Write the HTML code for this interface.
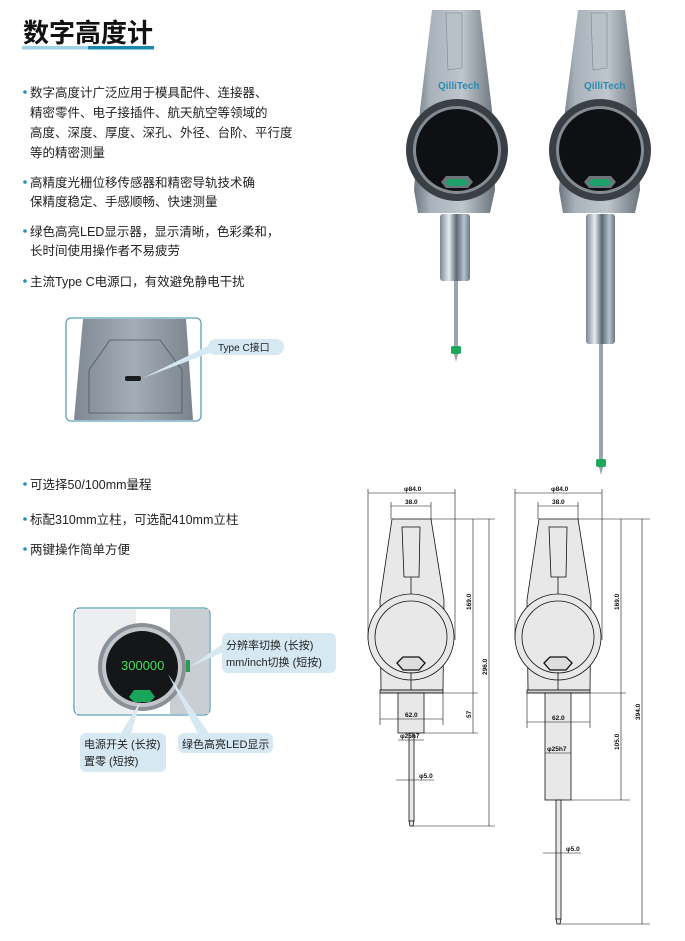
<!DOCTYPE html>
<html><head><meta charset="utf-8"><style>
html,body{margin:0;padding:0;background:#fff;}
svg{display:block;}
text{font-family:"Liberation Sans","Noto Sans CJK SC",sans-serif;}
</style></head><body>
<svg width="685" height="941" viewBox="0 0 685 941" xmlns="http://www.w3.org/2000/svg">
<defs>
<linearGradient id="body" x1="0" x2="1" y1="0" y2="0">
<stop offset="0" stop-color="#6d7680"/><stop offset="0.2" stop-color="#a9b2bb"/><stop offset="0.6" stop-color="#bfc6cd"/><stop offset="1" stop-color="#6a727b"/></linearGradient>
<linearGradient id="stem" x1="0" x2="1" y1="0" y2="0">
<stop offset="0" stop-color="#7c8794"/><stop offset="0.3" stop-color="#e4ebf2"/><stop offset="0.55" stop-color="#5d6875"/><stop offset="0.8" stop-color="#b6c2ce"/><stop offset="1" stop-color="#6b7784"/></linearGradient>
<linearGradient id="tc" x1="0" x2="1"><stop offset="0" stop-color="#7f8993"/><stop offset="0.5" stop-color="#a4adb6"/><stop offset="1" stop-color="#7b848e"/></linearGradient>
</defs>

<!-- Title -->
<text x="23" y="42" font-size="26" font-weight="bold" fill="#111">数字高度计</text>
<rect x="22" y="46" width="66" height="3.5" fill="#9fd0e3"/>
<rect x="88" y="46" width="66" height="3.5" fill="#1a88ad"/>

<!-- bullets -->
<g font-size="12.5" fill="#222">
<circle cx="25" cy="92" r="1.8" fill="#2a8fb3"/>
<text x="30" y="97">数字高度计广泛应用于模具配件、连接器、</text>
<text x="30" y="117">精密零件、电子接插件、航天航空等领域的</text>
<text x="30" y="137">高度、深度、厚度、深孔、外径、台阶、平行度</text>
<text x="30" y="157">等的精密测量</text>
<circle cx="25" cy="182" r="1.8" fill="#2a8fb3"/>
<text x="30" y="187">高精度光栅位移传感器和精密导轨技术确</text>
<text x="30" y="206">保精度稳定、手感顺畅、快速测量</text>
<circle cx="25" cy="231" r="1.8" fill="#2a8fb3"/>
<text x="30" y="236">绿色高亮LED显示器，显示清晰，色彩柔和，</text>
<text x="30" y="255">长时间使用操作者不易疲劳</text>
<circle cx="25" cy="281" r="1.8" fill="#2a8fb3"/>
<text x="30" y="286">主流Type C电源口，有效避免静电干扰</text>
<circle cx="25" cy="484" r="1.8" fill="#2a8fb3"/>
<text x="30" y="489">可选择50/100mm量程</text>
<circle cx="25" cy="519" r="1.8" fill="#2a8fb3"/>
<text x="30" y="524">标配310mm立柱，可选配410mm立柱</text>
<circle cx="25" cy="549" r="1.8" fill="#2a8fb3"/>
<text x="30" y="554">两键操作简单方便</text>
</g>

<!-- Type C box -->
<rect x="66" y="318" width="135" height="103" rx="5" fill="#fff" stroke="#5a9fb8" stroke-width="1.3"/>
<path d="M83 319 L186 319 L193 420 L74 420 Z" fill="url(#tc)"/>
<path d="M110 340 L160 340 L182 370 L182 413 L89 413 L89 370 Z" fill="none" stroke="#4d555d" stroke-width="0.8"/>
<rect x="125" y="376" width="16" height="5" rx="2" fill="#1a1d20"/>
<path d="M143 378 L212 352 L212 344 Z" fill="#d6e8f2"/>
<rect x="208" y="339" width="76" height="16" rx="8" fill="#d6e8f2"/>
<text x="218" y="351" font-size="10" fill="#222">Type C接口</text>

<!-- LED box -->
<rect x="74" y="608" width="136" height="107" rx="6" fill="#fff" stroke="#5a9fb8" stroke-width="1.3"/>
<rect x="170" y="609" width="39" height="105" fill="#c9ced3"/>
<rect x="76" y="609" width="60" height="105" fill="#eceef0"/>
<circle cx="142" cy="667" r="44" fill="#8a9097"/>
<circle cx="142" cy="667" r="40" fill="#c2c6ca"/>
<circle cx="142" cy="667" r="36" fill="#141618"/>
<text x="121" y="670" font-size="13" fill="#3ee05a" font-family="Liberation Mono,monospace">300000</text>
<path d="M129 697 L134 690 L150 690 L155 697 L150 702 L134 702 Z" fill="#19a55b"/>
<rect x="186" y="660" width="4" height="12" fill="#2a9a55"/>
<path d="M190 667 L228 650 L228 640 Z" fill="#d6e8f2"/>
<path d="M140 702 L118 738 L130 738 Z" fill="#d6e8f2"/>
<path d="M168 674 L200 738 L212 738 Z" fill="#d6e8f2"/>
<rect x="222" y="633" width="114" height="40" rx="6" fill="#d6e8f2"/>
<text x="226" y="649" font-size="11" fill="#222">分辨率切换 (长按)</text>
<text x="226" y="666" font-size="11" fill="#222">mm/inch切换 (短按)</text>
<rect x="80" y="733" width="86" height="39" rx="6" fill="#d6e8f2"/>
<text x="84" y="748" font-size="11" fill="#222">电源开关 (长按)</text>
<text x="84" y="765" font-size="11" fill="#222">置零 (短按)</text>
<rect x="178" y="733" width="95" height="20" rx="6" fill="#d6e8f2"/>
<text x="182" y="748" font-size="11" fill="#222">绿色高亮LED显示</text>

<!-- Devices photos -->
<g id="dev1">
<rect x="440" y="214" width="30" height="67" rx="3" fill="url(#stem)"/>
<rect x="454" y="281" width="4" height="75" fill="#9aa4ae"/>
<rect x="451" y="346" width="10" height="8" rx="2" fill="#1ea85e"/>
<path d="M454 354 L458 354 L456 362 Z" fill="#9aa4ae"/>
<path d="M432 10 L480 10 L492 110 L495 190 L490 213 L418 213 L414 190 L420 110 Z" fill="url(#body)"/>
<path d="M446 13 L462 13 L462 68 L448 70 Z" fill="#b8c0c8" stroke="#7c858e" stroke-width="0.6"/>
<text x="438" y="89" font-size="10" font-weight="bold" fill="#2a8bb0">QilliTech</text>
<circle cx="457" cy="150" r="51" fill="#3a3f45"/>
<circle cx="457" cy="150" r="44" fill="#858b92"/>
<circle cx="457" cy="150" r="41" fill="#0e1013"/>
<path d="M441 182 L446 176 L468 176 L473 182 L468 188 L446 188 Z" fill="#6d737a"/>
<path d="M445 183 L449 179 L465 179 L469 183 L465 186 L449 186 Z" fill="#1ea06a"/>
</g>
<g>
<rect x="586" y="214" width="29" height="130" rx="3" fill="url(#stem)"/>
<rect x="599" y="344" width="4" height="124" fill="#9aa4ae"/>
<rect x="596" y="459" width="10" height="8" rx="2" fill="#1ea85e"/>
<path d="M599 467 L603 467 L601 475 Z" fill="#9aa4ae"/>
<path d="M578 10 L625 10 L637 110 L640 190 L635 213 L563 213 L559 190 L565 110 Z" fill="url(#body)"/>
<path d="M591 13 L607 13 L607 68 L593 70 Z" fill="#b8c0c8" stroke="#7c858e" stroke-width="0.6"/>
<text x="584" y="89" font-size="10" font-weight="bold" fill="#2a8bb0">QilliTech</text>
<circle cx="600" cy="150" r="51" fill="#3a3f45"/>
<circle cx="600" cy="150" r="44" fill="#858b92"/>
<circle cx="600" cy="150" r="41" fill="#0e1013"/>
<path d="M584 182 L589 176 L611 176 L616 182 L611 188 L589 188 Z" fill="#6d737a"/>
<path d="M588 183 L592 179 L608 179 L612 183 L608 186 L592 186 Z" fill="#1ea06a"/>
</g>

<!-- Drawings -->
<g stroke="#111" stroke-width="0.8" fill="#e8e8e8">
<!-- left -->
<path d="M392 519 L431 519 L444 600 L443 690 L381 690 L380 600 Z"/>
<path d="M402 527 L420 527 L419 577 L404 577 Z" fill="#e8e8e8"/>
<line x1="411" y1="577" x2="411" y2="600"/>
<rect x="380" y="690" width="63" height="3" fill="#ccc"/>
<circle cx="411" cy="637" r="43"/>
<circle cx="411" cy="637" r="36"/>
<path d="M397 663 L403 657 L419 657 L425 663 L419 670 L403 670 Z" fill="#ddd" stroke-width="1.3"/>
<line x1="411" y1="672" x2="411" y2="690"/>
<rect x="398" y="693" width="26" height="40"/>
<rect x="409" y="733" width="5" height="88"/>
<path d="M409 821 L414 821 L413 826 L410 826 Z"/>
<!-- right -->
<path d="M539 519 L578 519 L591 600 L590 690 L528 690 L527 600 Z"/>
<path d="M549 527 L567 527 L566 577 L551 577 Z"/>
<line x1="558" y1="577" x2="558" y2="600"/>
<rect x="527" y="690" width="63" height="3" fill="#ccc"/>
<circle cx="558" cy="637" r="43"/>
<circle cx="558" cy="637" r="36"/>
<path d="M544 663 L550 657 L566 657 L572 663 L566 670 L550 670 Z" fill="#ddd" stroke-width="1.3"/>
<line x1="558" y1="672" x2="558" y2="690"/>
<rect x="545" y="693" width="26" height="107"/>
<rect x="556" y="800" width="5" height="119"/>
<path d="M556 919 L561 919 L560 924 L557 924 Z"/>
</g>
<g stroke="#111" stroke-width="0.6" fill="none">
<!-- left dims -->
<line x1="368" y1="489" x2="368" y2="640"/><line x1="455" y1="489" x2="455" y2="640"/>
<line x1="368" y1="493" x2="455" y2="493"/>
<line x1="391" y1="502" x2="391" y2="519"/><line x1="431" y1="502" x2="431" y2="519"/>
<line x1="391" y1="506" x2="431" y2="506"/>
<line x1="431" y1="519" x2="495" y2="519"/>
<line x1="473" y1="519" x2="473" y2="733"/>
<line x1="489" y1="519" x2="489" y2="826"/>
<line x1="380" y1="693" x2="478" y2="693"/>
<line x1="424" y1="733" x2="478" y2="733"/>
<line x1="411" y1="826" x2="495" y2="826"/>
<line x1="380" y1="693" x2="380" y2="725"/><line x1="443" y1="693" x2="443" y2="725"/>
<line x1="380" y1="719" x2="443" y2="719"/>
<line x1="398" y1="740" x2="424" y2="740"/>
<line x1="396" y1="780" x2="434" y2="780"/>
<!-- right dims -->
<line x1="515" y1="489" x2="515" y2="640"/><line x1="602" y1="489" x2="602" y2="640"/>
<line x1="515" y1="493" x2="602" y2="493"/>
<line x1="538" y1="502" x2="538" y2="519"/><line x1="578" y1="502" x2="578" y2="519"/>
<line x1="538" y1="506" x2="578" y2="506"/>
<line x1="578" y1="519" x2="650" y2="519"/>
<line x1="621" y1="519" x2="621" y2="800"/>
<line x1="642" y1="519" x2="642" y2="924"/>
<line x1="527" y1="693" x2="626" y2="693"/>
<line x1="571" y1="800" x2="630" y2="800"/>
<line x1="558" y1="924" x2="650" y2="924"/>
<line x1="527" y1="693" x2="527" y2="728"/><line x1="590" y1="693" x2="590" y2="728"/>
<line x1="527" y1="722" x2="590" y2="722"/>
<line x1="545" y1="753" x2="571" y2="753"/>
<line x1="543" y1="853" x2="581" y2="853"/>
</g>
<g font-size="6.5" fill="#111" font-weight="bold">
<text x="404" y="491">φ84.0</text><text x="405" y="504">38.0</text>
<text x="405" y="717">62.0</text><text x="400" y="738">φ25h7</text><text x="419" y="778">φ5.0</text>
<text x="551" y="491">φ84.0</text><text x="552" y="504">38.0</text>
<text x="552" y="720">62.0</text><text x="547" y="751">φ25h7</text><text x="566" y="851">φ5.0</text>
<text transform="translate(471,610) rotate(-90)">169.0</text>
<text transform="translate(487,675) rotate(-90)">296.0</text>
<text transform="translate(471,718) rotate(-90)">57</text>
<text transform="translate(619,610) rotate(-90)">169.0</text>
<text transform="translate(619,750) rotate(-90)">105.0</text>
<text transform="translate(640,720) rotate(-90)">394.0</text>
</g>
</svg>
</body></html>
